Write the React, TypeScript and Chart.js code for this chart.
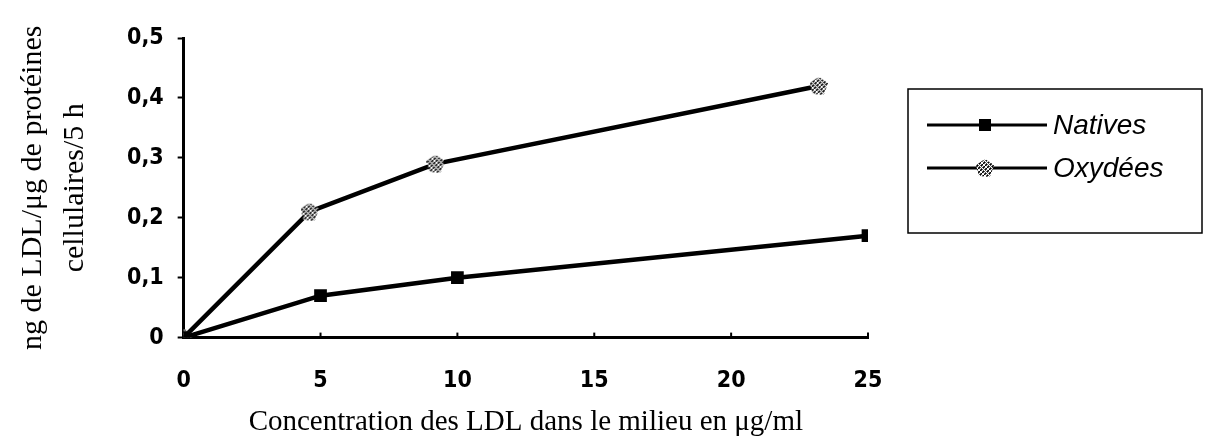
import React, { useEffect, useRef } from "react";
import { Chart, registerables } from "chart.js";

Chart.register(...registerables);

const nativesX = [0, 5, 10, 25];
const nativesY = [0, 0.07, 0.1, 0.17];
const oxydeesX = [0, 4.6, 9.2, 23.2];
const oxydeesY = [0, 0.21, 0.29, 0.42];
const seriesLabels = ["Natives", "Oxydées"];
const xTitle = "Concentration des LDL dans le milieu en μg/ml";
const yTitle = ["ng de LDL/μg de protéines", "cellulaires/5 h"];

function makeHatch(): HTMLCanvasElement {
  const c = document.createElement("canvas");
  c.width = 18;
  c.height = 18;
  const g = c.getContext("2d")!;
  g.fillStyle = "#fff";
  g.fillRect(0, 0, 18, 18);
  g.strokeStyle = "#000";
  g.lineWidth = 1.6;
  for (let i = -18; i < 36; i += 4) {
    g.beginPath();
    g.moveTo(i, 18);
    g.lineTo(i + 18, 0);
    g.stroke();
  }
  g.strokeStyle = "#fff";
  g.lineWidth = 1;
  for (let i = -18; i < 36; i += 5) {
    g.beginPath();
    g.moveTo(i, 0);
    g.lineTo(i + 18, 18);
    g.stroke();
  }
  g.globalCompositeOperation = "destination-in";
  g.fillStyle = "#000";
  g.beginPath();
  g.moveTo(9, 0);
  g.lineTo(18, 6);
  g.lineTo(14, 18);
  g.lineTo(3, 17);
  g.lineTo(0, 6);
  g.closePath();
  g.fill();
  return c;
}

const legendPlugin = {
  id: "boxLegend",
  afterDraw(chart: any) {
    const ctx = chart.ctx;
    const x0 = 908, y0 = 89, w = 294, h = 144;
    ctx.save();
    ctx.strokeStyle = "#000";
    ctx.lineWidth = 1.5;
    ctx.strokeRect(x0, y0, w, h);
    const rows = [125, 168];
    chart.data.datasets.forEach((ds: any, i: number) => {
      const y = rows[i];
      ctx.strokeStyle = "#000";
      ctx.lineWidth = 3;
      ctx.beginPath();
      ctx.moveTo(927, y);
      ctx.lineTo(1047, y);
      ctx.stroke();
      if (ds.pointStyle instanceof HTMLCanvasElement) {
        ctx.drawImage(ds.pointStyle, 985 - 9, y - 9);
      } else {
        ctx.fillStyle = "#000";
        ctx.fillRect(979, y - 6, 12, 12);
      }
      ctx.fillStyle = "#000";
      ctx.font = "italic 28px 'Liberation Sans', Arial, sans-serif";
      ctx.textBaseline = "middle";
      ctx.textAlign = "left";
      ctx.fillText(ds.label, 1053, y + 1);
    });
    ctx.restore();
  },
};

const innerTicks = {
  id: "innerTicks",
  afterDraw(chart: any) {
    const ctx = chart.ctx;
    const xs = chart.scales.x;
    const bottom = chart.chartArea.bottom;
    ctx.save();
    ctx.strokeStyle = "#000";
    ctx.lineWidth = 2;
    xs.ticks.forEach((t: any, i: number) => {
      if (i === 0) return;
      const px = xs.getPixelForValue(t.value);
      ctx.beginPath();
      ctx.moveTo(px, bottom);
      ctx.lineTo(px, bottom - 5);
      ctx.stroke();
    });
    ctx.restore();
  },
};

export default function App() {
  const ref = useRef<HTMLCanvasElement | null>(null);
  useEffect(() => {
    document.body.style.margin = "0";
    const hatch = makeHatch();
    const tickFont = { family: "'DejaVu Sans Condensed', 'Liberation Sans Narrow', sans-serif", size: 23, weight: "bold" as const, lineHeight: 1.2 };
    const chart = new Chart(ref.current!, {
      type: "line",
      data: {
        datasets: [
          {
            label: seriesLabels[0],
            data: nativesX.map((x, i) => ({ x, y: nativesY[i] })),
            borderColor: "#000",
            backgroundColor: "#000",
            borderWidth: 4.5,
            pointStyle: "rect",
            pointRadius: 9,
            pointBorderWidth: 0,
          },
          {
            label: seriesLabels[1],
            data: oxydeesX.map((x, i) => ({ x, y: oxydeesY[i] })),
            borderColor: "#000",
            backgroundColor: "#000",
            borderWidth: 4.5,
            pointStyle: hatch as any,
            pointRadius: 9,
          },
        ],
      },
      options: {
        animation: false,
        responsive: false,
        layout: { padding: { top: 38, right: 337, left: 12, bottom: 8 } },
        plugins: { legend: { display: false }, tooltip: { enabled: false } },
        scales: {
          x: {
            type: "linear",
            min: 0,
            max: 25,
            ticks: { stepSize: 5, color: "#000", font: tickFont, padding: 30 },
            grid: { display: true, drawOnChartArea: false, drawTicks: false, color: "#000" },
            border: { color: "#000", width: 3 },
            title: {
              display: true,
              text: xTitle,
              color: "#000",
              font: { family: "'Liberation Serif', 'Times New Roman', serif", size: 29, lineHeight: 1.2 },
              padding: { top: -20, bottom: 0 },
            },
          },
          y: {
            min: 0,
            max: 0.5,
            ticks: {
              stepSize: 0.1,
              color: "#000",
              font: tickFont,
              padding: 14,
              callback: (v: any) => (v === 0 ? "0" : Number(v).toFixed(1).replace(".", ",")),
            },
            grid: { display: true, drawOnChartArea: false, drawTicks: true, tickLength: 6, color: "#000", tickWidth: 2 },
            border: { color: "#000", width: 3 },
            title: {
              display: true,
              text: yTitle,
              color: "#000",
              font: { family: "'Liberation Serif', 'Times New Roman', serif", size: 30, lineHeight: 1.4 },
              padding: { top: 0, bottom: 17 },
            },
          },
        },
      },
      plugins: [legendPlugin, innerTicks],
    });
    return () => chart.destroy();
  }, []);
  return (
    <div style={{ position: "absolute", left: 0, top: 0, width: 1205, height: 448, background: "#fff" }}>
      <canvas ref={ref} width={1205} height={448} style={{ width: 1205, height: 448 }} />
    </div>
  );
}
